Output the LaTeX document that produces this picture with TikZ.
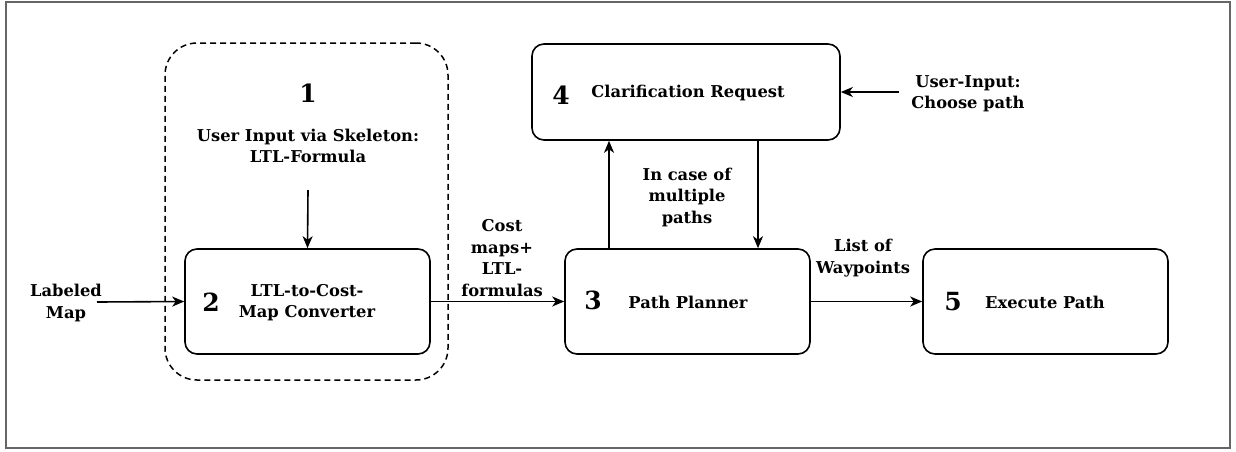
\documentclass[tikz,border=0pt]{standalone}
\usepackage{fontspec}
\setmainfont{DejaVu Serif}
\usetikzlibrary{arrows.meta,calc}
\tikzset{
  stage/.style={draw, line width=1.6pt, rounded corners=12pt, minimum width=245pt, minimum height=105pt, inner sep=0pt},
  lbl/.style={font=\bfseries\fontsize{16.3}{21.5}\selectfont, align=center, inner sep=0pt},
  num/.style={font=\bfseries\fontsize{25}{28}\selectfont, inner sep=0pt},
  flow/.style={line width=1.6pt, -{Stealth[length=12pt,width=10pt,inset=3.5pt]}},
}
\begin{document}
\begin{tikzpicture}[x=1pt, y=-1pt]
  % page frame
  \path[use as bounding box] (0,0) rectangle (1236,451);
  \draw[line width=2pt, draw=black!60] (5.5,1.5) rectangle (1229.5,447.5);

  % group around the user input and converter
  \node[draw, dash pattern=on 6pt off 4pt, line width=1.5pt, rounded corners=32pt, minimum width=283pt, minimum height=337pt] (grp) at (306.5,211.5) {};
  \node[num] (n1) at (308,93) {1};
  \node[lbl] (uin) at (308,146) {User Input via Skeleton:\\LTL-Formula};
  \coordinate (uinb) at (308,190);

  % main stages
  \node[stage] (s2) at (307.5,301.5) {};
  \node[num] (n2) at (211,302) {2};
  \node[lbl] (t2) at (307,302.5) {LTL-to-Cost-\\Map Converter};

  \node[stage] (s3) at (687.5,301.5) {};
  \node[num] (n3) at (593,300) {3};
  \node[lbl] (t3) at (688,302) {Path Planner};

  \node[stage] (s5) at (1045.5,301.5) {};
  \node[num] (n5) at (953,302) {5};
  \node[lbl] (t5) at (1045,302) {Execute Path};

  \node[stage, minimum width=308pt, minimum height=96pt] (s4) at (686,92) {};
  \node[num] (n4) at (561,95) {4};
  \node[lbl] (t4) at (688,93) {Clarification Request};

  % external inputs and edge labels
  \node[lbl] (lm) at (66,303) {Labeled\\Map};
  \coordinate (lme) at (97,302);
  \node[lbl] (ui2) at (968,93.5) {User-Input:\\Choose path};
  \coordinate (ui2w) at (899,92);
  \node[lbl] (cm) at (502,258) {Cost\\maps+\\LTL-\\formulas};
  \node[lbl] (mp) at (687,197) {In case of\\multiple\\paths};
  \node[lbl] (wp) at (863,258) {List of\\Waypoints};

  % connectors
  \draw[flow] (uinb) -- (s2.north);
  \draw[flow] (lme) -- (s2.west);
  \draw[flow] (s2.east) -- (s3.west);
  \draw[flow] (s3.east) -- (s5.west);
  \draw[flow] (ui2w) -- (s4.east);
  \draw[flow] ([xshift=-78.5pt]s3.north) -- ([xshift=-78.5pt]s3.north |- s4.south);
  \draw[flow] ([xshift=70.5pt]s3.north |- s4.south) -- ([xshift=70.5pt]s3.north);
\end{tikzpicture}
\end{document}
